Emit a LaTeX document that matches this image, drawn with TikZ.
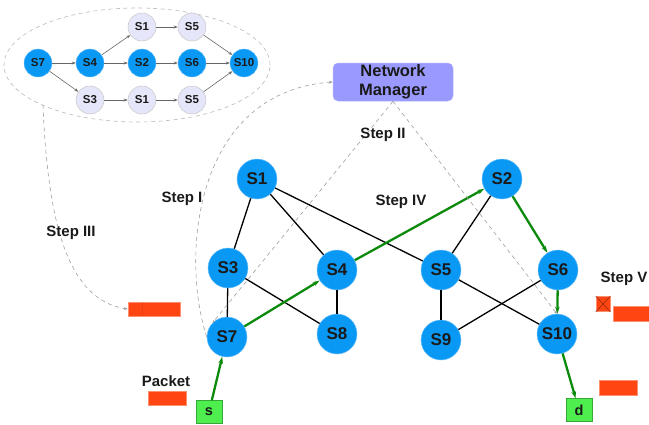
\documentclass[tikz,border=0pt]{standalone}
\usepackage{fontspec}
\setmainfont{Liberation Sans}
\usetikzlibrary{arrows.meta}
\definecolor{nblue}{HTML}{0A98F5}
\definecolor{lav}{HTML}{E6E6FA}
\definecolor{pred}{HTML}{FF4512}
\definecolor{gbox}{HTML}{4DEE4D}
\definecolor{garrow}{HTML}{0B8A0B}
\definecolor{nmfill}{HTML}{9999FF}
\definecolor{txt}{HTML}{1A1A1A}
\begin{document}
\begin{tikzpicture}[x=1pt,y=-1pt,
  big/.style={circle, fill=nblue, draw=nblue!60!white, line width=0.5pt, minimum size=40pt, inner sep=0pt, text=txt, font=\fontsize{17}{17}\selectfont\bfseries},
  small/.style={circle, minimum size=28pt, inner sep=0pt, text=txt, font=\fontsize{11.5}{12}\selectfont\bfseries},
  sblue/.style={small, fill=nblue, draw=nblue!60!white, line width=0.4pt},
  slav/.style={small, fill=lav, draw=gray!45, line width=0.5pt},
  ghost/.style={draw=gray!80!black, line width=0.6pt, -{Stealth[length=4pt,width=3pt]}},
  edge/.style={draw=black, line width=1.3pt},
  garr/.style={draw=garrow, line width=2.3pt, -{Stealth[length=7pt,width=4.5pt]}},
  dsh/.style={draw=gray!75, line width=0.6pt, dash pattern=on 4pt off 3.5pt},
  steplbl/.style={text=txt, font=\fontsize{15}{15}\selectfont\bfseries, inner sep=0pt},
  redbox/.style={fill=pred, draw=pred!60!white, line width=0.4pt, inner sep=0pt},
  gb/.style={rectangle, fill=gbox, draw=gbox!70!black, line width=0.3pt, minimum width=26pt, minimum height=23pt, inner sep=0pt, text=txt, font=\fontsize{14.5}{15}\selectfont\bfseries}
]
\useasboundingbox (0,0) rectangle (649,424);

% ---- top ellipse with path graph ----
\draw[dsh, draw=gray!55] (137,65) ellipse [x radius=133pt, y radius=57pt];
\node[sblue] (t7) at (38,63) {S7};
\node[sblue] (t4) at (90,63) {S4};
\node[sblue] (t2) at (142,63) {S2};
\node[sblue] (t6) at (192,63) {S6};
\node[sblue] (t10) at (244,63) {S10};
\node[slav] (t1a) at (142,27) {S1};
\node[slav] (t5a) at (192,27) {S5};
\node[slav] (t3) at (90,100) {S3};
\node[slav] (t1b) at (142,100) {S1};
\node[slav] (t5b) at (192,100) {S5};
\draw[ghost] (t7) -- (t4);
\draw[ghost] (t4) -- (t2);
\draw[ghost] (t2) -- (t6);
\draw[ghost] (t6) -- (t10);
\draw[ghost] (t4) -- (t1a);
\draw[ghost] (t1a) -- (t5a);
\draw[ghost] (t5a) -- (t10);
\draw[ghost] (t7) -- (t3);
\draw[ghost] (t3) -- (t1b);
\draw[ghost] (t1b) -- (t5b);
\draw[ghost] (t5b) -- (t10);

% ---- network manager ----
\node[rectangle, rounded corners=5pt, fill=nmfill, draw=nmfill!70!white, line width=0.5pt, minimum width=120pt, minimum height=38pt, inner sep=0pt, align=center, text=txt, font=\fontsize{16.5}{19.5}\selectfont\bfseries] (nm) at (393,82) {Network\\Manager};

% ---- main graph nodes ----
\node[big] (s1) at (257,179) {S1};
\node[big] (s2) at (502,179) {S2};
\node[big] (s3) at (228,268) {S3};
\node[big] (s4) at (337,270) {S4};
\node[big] (s5) at (441,270) {S5};
\node[big] (s6) at (558,270) {S6};
\node[big] (s7) at (227,337) {S7};
\node[big] (s8) at (337,334) {S8};
\node[big] (s9) at (441,340) {S9};
\node[big] (s10) at (557,334) {S10};
\node[gb] (src) at (209,412) {s};
\node[gb] (dst) at (579,410) {d};

% ---- black edges ----
\draw[edge] (s1) -- (s3);
\draw[edge] (s1) -- (s4);
\draw[edge] (s1) -- (s5);
\draw[edge] (s3) -- (s7);
\draw[edge] (s3) -- (s8);
\draw[edge] (s4) -- (s8);
\draw[edge] (s2) -- (s5);
\draw[edge] (s5) -- (s9);
\draw[edge] (s5) -- (s10);
\draw[edge] (s6) -- (s9);

% ---- green path ----
\draw[garr] (src) -- (s7);
\draw[garr] (s7) -- (s4);
\draw[garr] (s4) -- (s2);
\draw[garr] (s2) -- (s6);
\draw[garr] (s6) -- (s10);
\draw[garr] (s10) -- (dst);

% ---- red packet boxes ----
\node[redbox, minimum width=52pt, minimum height=14pt] (r3) at (154,309) {};
\draw[pred!80!black, line width=0.3pt, opacity=0.35] (142,302) -- (142,316);
\node[redbox, minimum width=38pt, minimum height=14pt] (rp) at (167,398) {};
\node[redbox, minimum width=14pt, minimum height=15pt] (rx) at (603,304) {};
\draw[pred!55!black, line width=0.5pt] (rx.north west) -- (rx.south east) (rx.north east) -- (rx.south west);
\node[redbox, minimum width=38pt, minimum height=15pt] (r5) at (632,314) {};
\node[redbox, minimum width=38pt, minimum height=15pt] (rd) at (618,388) {};

% ---- dashed step connectors ----
\coordinate (ell) at (43,105);
\draw[dsh, -{Stealth[length=4pt,width=3pt]}] (ell) .. controls (48,230) and (70,300) .. (r3.west);
\draw[dsh, -{Stealth[length=4pt,width=3pt]}] (s7.west) .. controls (180,255) and (195,92) .. (nm.west);
\draw[dsh, -{Stealth[length=3pt,width=2.5pt]}] (nm.south) -- (s7.north west);
\draw[dsh, -{Stealth[length=3pt,width=2.5pt]}] (nm.south) -- (s10.north);

% ---- labels ----
\node[steplbl] (l1) at (182,199) {Step I};
\node[steplbl] (l2) at (383,135) {Step II};
\node[steplbl] (l3) at (71,233) {Step III};
\node[steplbl] (l4) at (401,202) {Step IV};
\node[steplbl] (l5) at (624,279) {Step V};
\node[steplbl] (lp) at (166,381) {Packet};
\end{tikzpicture}
\end{document}
